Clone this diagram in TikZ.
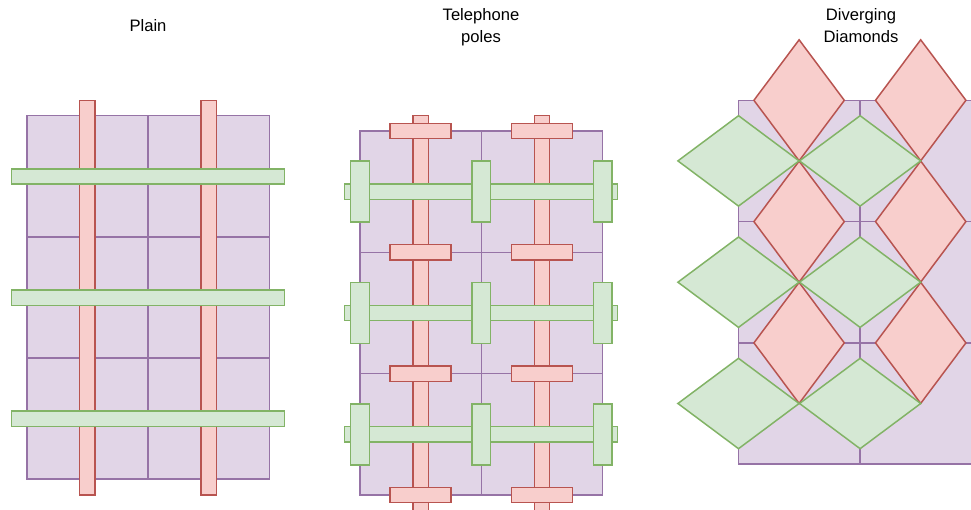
\documentclass[tikz,border=0pt]{standalone}
\usepackage{fontspec}
\setmainfont{Liberation Sans}
\usepackage{tikz}

\definecolor{lilacfill}{HTML}{E1D5E7}
\definecolor{lilacline}{HTML}{9673A6}
\definecolor{rosefill}{HTML}{F8CECC}
\definecolor{roseline}{HTML}{B85450}
\definecolor{mintfill}{HTML}{D5E8D4}
\definecolor{mintline}{HTML}{82B366}

\begin{document}
\begin{tikzpicture}[
x=1pt, y=-1pt,
cell/.style={draw=lilacline, fill=lilacfill, line width=1.5pt},
redbar/.style={draw=roseline, fill=rosefill, line width=1.5pt},
greenbar/.style={draw=mintline, fill=mintfill, line width=1.5pt},
title/.style={anchor=north, inner sep=0pt, align=center, font=\fontsize{16.6}{21.6}\selectfont}
]
\useasboundingbox (0,0) rectangle (971,510);
\clip (0,0) rectangle (971,510);

% plain weave
\node[title] (plain) at (148,19.5) {Plain};
\foreach \i in {0,1}
  \foreach \j in {0,1,2}
    \draw[cell] (27+121.2*\i,115.7+121.1*\j) rectangle ++(121.2,121.1);
\foreach \x in {87.4,208.6}
  \draw[redbar] (\x-7.8,100.7) rectangle (\x+7.8,495);
\foreach \y in {176.5,297.6,418.8}
  \draw[greenbar] (11.3,\y-7.7) rectangle (284.3,\y+7.7);

% poles with cross arms
\node[title] (poles) at (481,8.6) {Telephone\\poles};
\foreach \i in {0,1}
  \foreach \j in {0,1,2}
    \draw[cell] (360+121.3*\i,131+121.3*\j) rectangle ++(121.3,121.3);
\foreach \x in {420.7,542} {
  \draw[redbar] (\x-7.7,115.7) rectangle (\x+7.7,510.3);
  \foreach \y in {131,252.3,373.7,495}
    \draw[redbar] (\x-30.5,\y-7.7) rectangle (\x+30.5,\y+7.7);
}
\foreach \y in {191.7,313,434.3} {
  \draw[greenbar] (344.3,\y-7.7) rectangle (617.7,\y+7.7);
  \foreach \x in {360,481.3,602.7}
    \draw[greenbar] (\x-9.3,\y-30.5) rectangle (\x+9.3,\y+30.5);
}

% diamonds
\node[title] (diamonds) at (861,8.6) {Diverging\\Diamonds};
\foreach \i in {0,1}
  \foreach \j in {0,1,2}
    \draw[cell] (738.3+121.6*\i,100.3+121.3*\j) rectangle ++(121.6,121.3);
\foreach \i in {0,1}
  \foreach \j in {0,1,2}
    \draw[redbar, shift={(799.1+121.6*\i,100.3+121.3*\j)}]
      (0,-60.5) -- (45.2,0) -- (0,60.5) -- (-45.2,0) -- cycle;
\foreach \i in {0,1}
  \foreach \j in {0,1,2}
    \draw[greenbar, shift={(738.5+121.6*\i,160.9+121.3*\j)}]
      (0,-45.2) -- (60.6,0) -- (0,45.2) -- (-60.6,0) -- cycle;
\end{tikzpicture}
\end{document}
